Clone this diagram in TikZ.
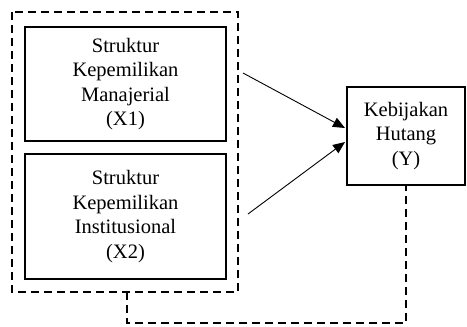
\documentclass[tikz,border=0pt]{standalone}
\usepackage{fontspec}
\setmainfont{Liberation Serif}
\usetikzlibrary{arrows.meta}
\begin{document}
\begin{tikzpicture}[x=1pt,y=-1pt,
  varbox/.style={draw,line width=2pt,rectangle,align=center,inner sep=0pt,
    font=\fontsize{20.5pt}{24.5pt}\selectfont},
  grpline/.style={line width=2pt,dash pattern=on 8pt off 5pt},
  arr/.style={line width=0.9pt,-{Triangle[length=12pt,width=10pt]}}]
\useasboundingbox (0,0) rectangle (467,327);
\node[varbox,minimum width=201pt,minimum height=114pt] (x1) at (125.5,84) {Struktur\\Kepemilikan\\Manajerial\\(X1)};
\node[varbox,minimum width=201pt,minimum height=125pt] (x2) at (125.5,216.5) {Struktur\\Kepemilikan\\Institusional\\(X2)};
\node[varbox,minimum width=118pt,minimum height=98pt] (y) at (406,136) {Kebijakan\\Hutang\\(Y)};
\coordinate (gtl) at (12,12);
\coordinate (gbr) at (238,292);
\draw[grpline] (gtl) rectangle (gbr);
\coordinate (gb) at (127,292);
\draw[grpline] (gb) -- ++(0,31) -| (y.south);
\coordinate (a1) at (243,73);
\coordinate (a2) at (248,214);
\draw[arr] (a1) -- ([yshift=8pt,xshift=-1pt]y.west);
\draw[arr] (a2) -- ([yshift=-6pt,xshift=-1pt]y.west);
\end{tikzpicture}
\end{document}
